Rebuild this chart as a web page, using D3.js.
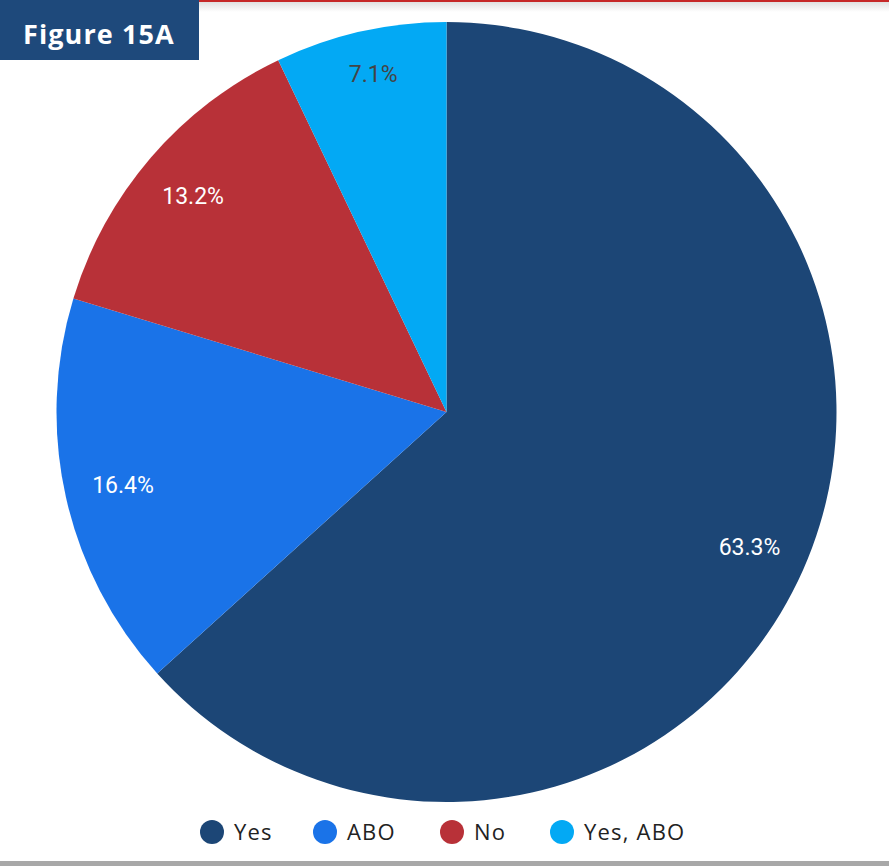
<!DOCTYPE html>
<html><head><meta charset="utf-8">
<script src="https://cdn.jsdelivr.net/npm/d3@7"></script>
<style>html,body{margin:0;padding:0;background:#fff;overflow:hidden}</style>
</head><body>
<svg id="chart" width="889" height="866"></svg>
<script>
const categories = ["Yes", "ABO", "No", "Yes, ABO"];
const values = [63.3, 16.4, 13.2, 7.1];
const labels = ["63.3%", "16.4%", "13.2%", "7.1%"];
const colors = ["#1c4676", "#1a73e8", "#b83138", "#03a9f4"];
const labelColors = ["#ffffff", "#ffffff", "#ffffff", "#444444"];
const title = "Figure 15A";

const svg = d3.select("#chart");
const defs = svg.append("defs");
const g1 = defs.append("linearGradient").attr("id","topShadow").attr("x1",0).attr("y1",0).attr("x2",0).attr("y2",1);
g1.append("stop").attr("offset","0").attr("stop-color","#000").attr("stop-opacity",0.12);
g1.append("stop").attr("offset","1").attr("stop-color","#000").attr("stop-opacity",0);

// top red line with shadow
svg.append("rect").attr("x",0).attr("y",2).attr("width",889).attr("height",10).attr("fill","url(#topShadow)");
svg.append("rect").attr("x",0).attr("y",0).attr("width",889).attr("height",2).attr("fill","#c62828");
// bottom grey line
svg.append("rect").attr("x",0).attr("y",861).attr("width",889).attr("height",5).attr("fill","#a8a8a8");

const cx = 446.5, cy = 412, R = 390;
const pie = d3.pie().sort(null).value(d => d)(values);
const arc = d3.arc().innerRadius(0).outerRadius(R);
const labelArc = d3.arc().innerRadius(R*0.85).outerRadius(R*0.85);
const g = svg.append("g").attr("transform",`translate(${cx},${cy})`);
g.selectAll("path").data(pie).join("path")
  .attr("d", arc).attr("fill",(d,i)=>colors[i]);
g.selectAll("text").data(pie).join("text")
  .attr("transform",(d,i)=>{ const c = labelArc.centroid(d); if(i===3) c[1]-=15; if(i===2) c[0]-=2; return `translate(${c[0]},${c[1]})`; })
  .attr("text-anchor","middle").attr("dy","0.36em")
  .attr("font-family","Roboto, sans-serif").attr("font-size",23)
  .attr("fill",(d,i)=>labelColors[i])
  .text((d,i)=>labels[i]);

// title box
svg.append("rect").attr("x",0).attr("y",0).attr("width",199).attr("height",60).attr("fill","#1e497b");
svg.append("text").attr("x",23).attr("y",44).attr("fill","#fff")
  .attr("font-family","'Open Sans', Lato, sans-serif").attr("font-weight",700).attr("font-size",27)
  .attr("letter-spacing",1.1)
  .text(title);

// legend
const legX = [212, 325, 452, 562];
const leg = svg.append("g");
categories.forEach((c,i)=>{
  leg.append("circle").attr("cx",legX[i]).attr("cy",832).attr("r",12).attr("fill",colors[i]);
  leg.append("text").attr("x",legX[i]+22).attr("y",832).attr("dy","0.36em")
    .attr("font-family","'Open Sans', sans-serif").attr("font-size",22).attr("letter-spacing",1.2)
    .attr("fill","#222").text(c);
});
</script>
</body></html>
